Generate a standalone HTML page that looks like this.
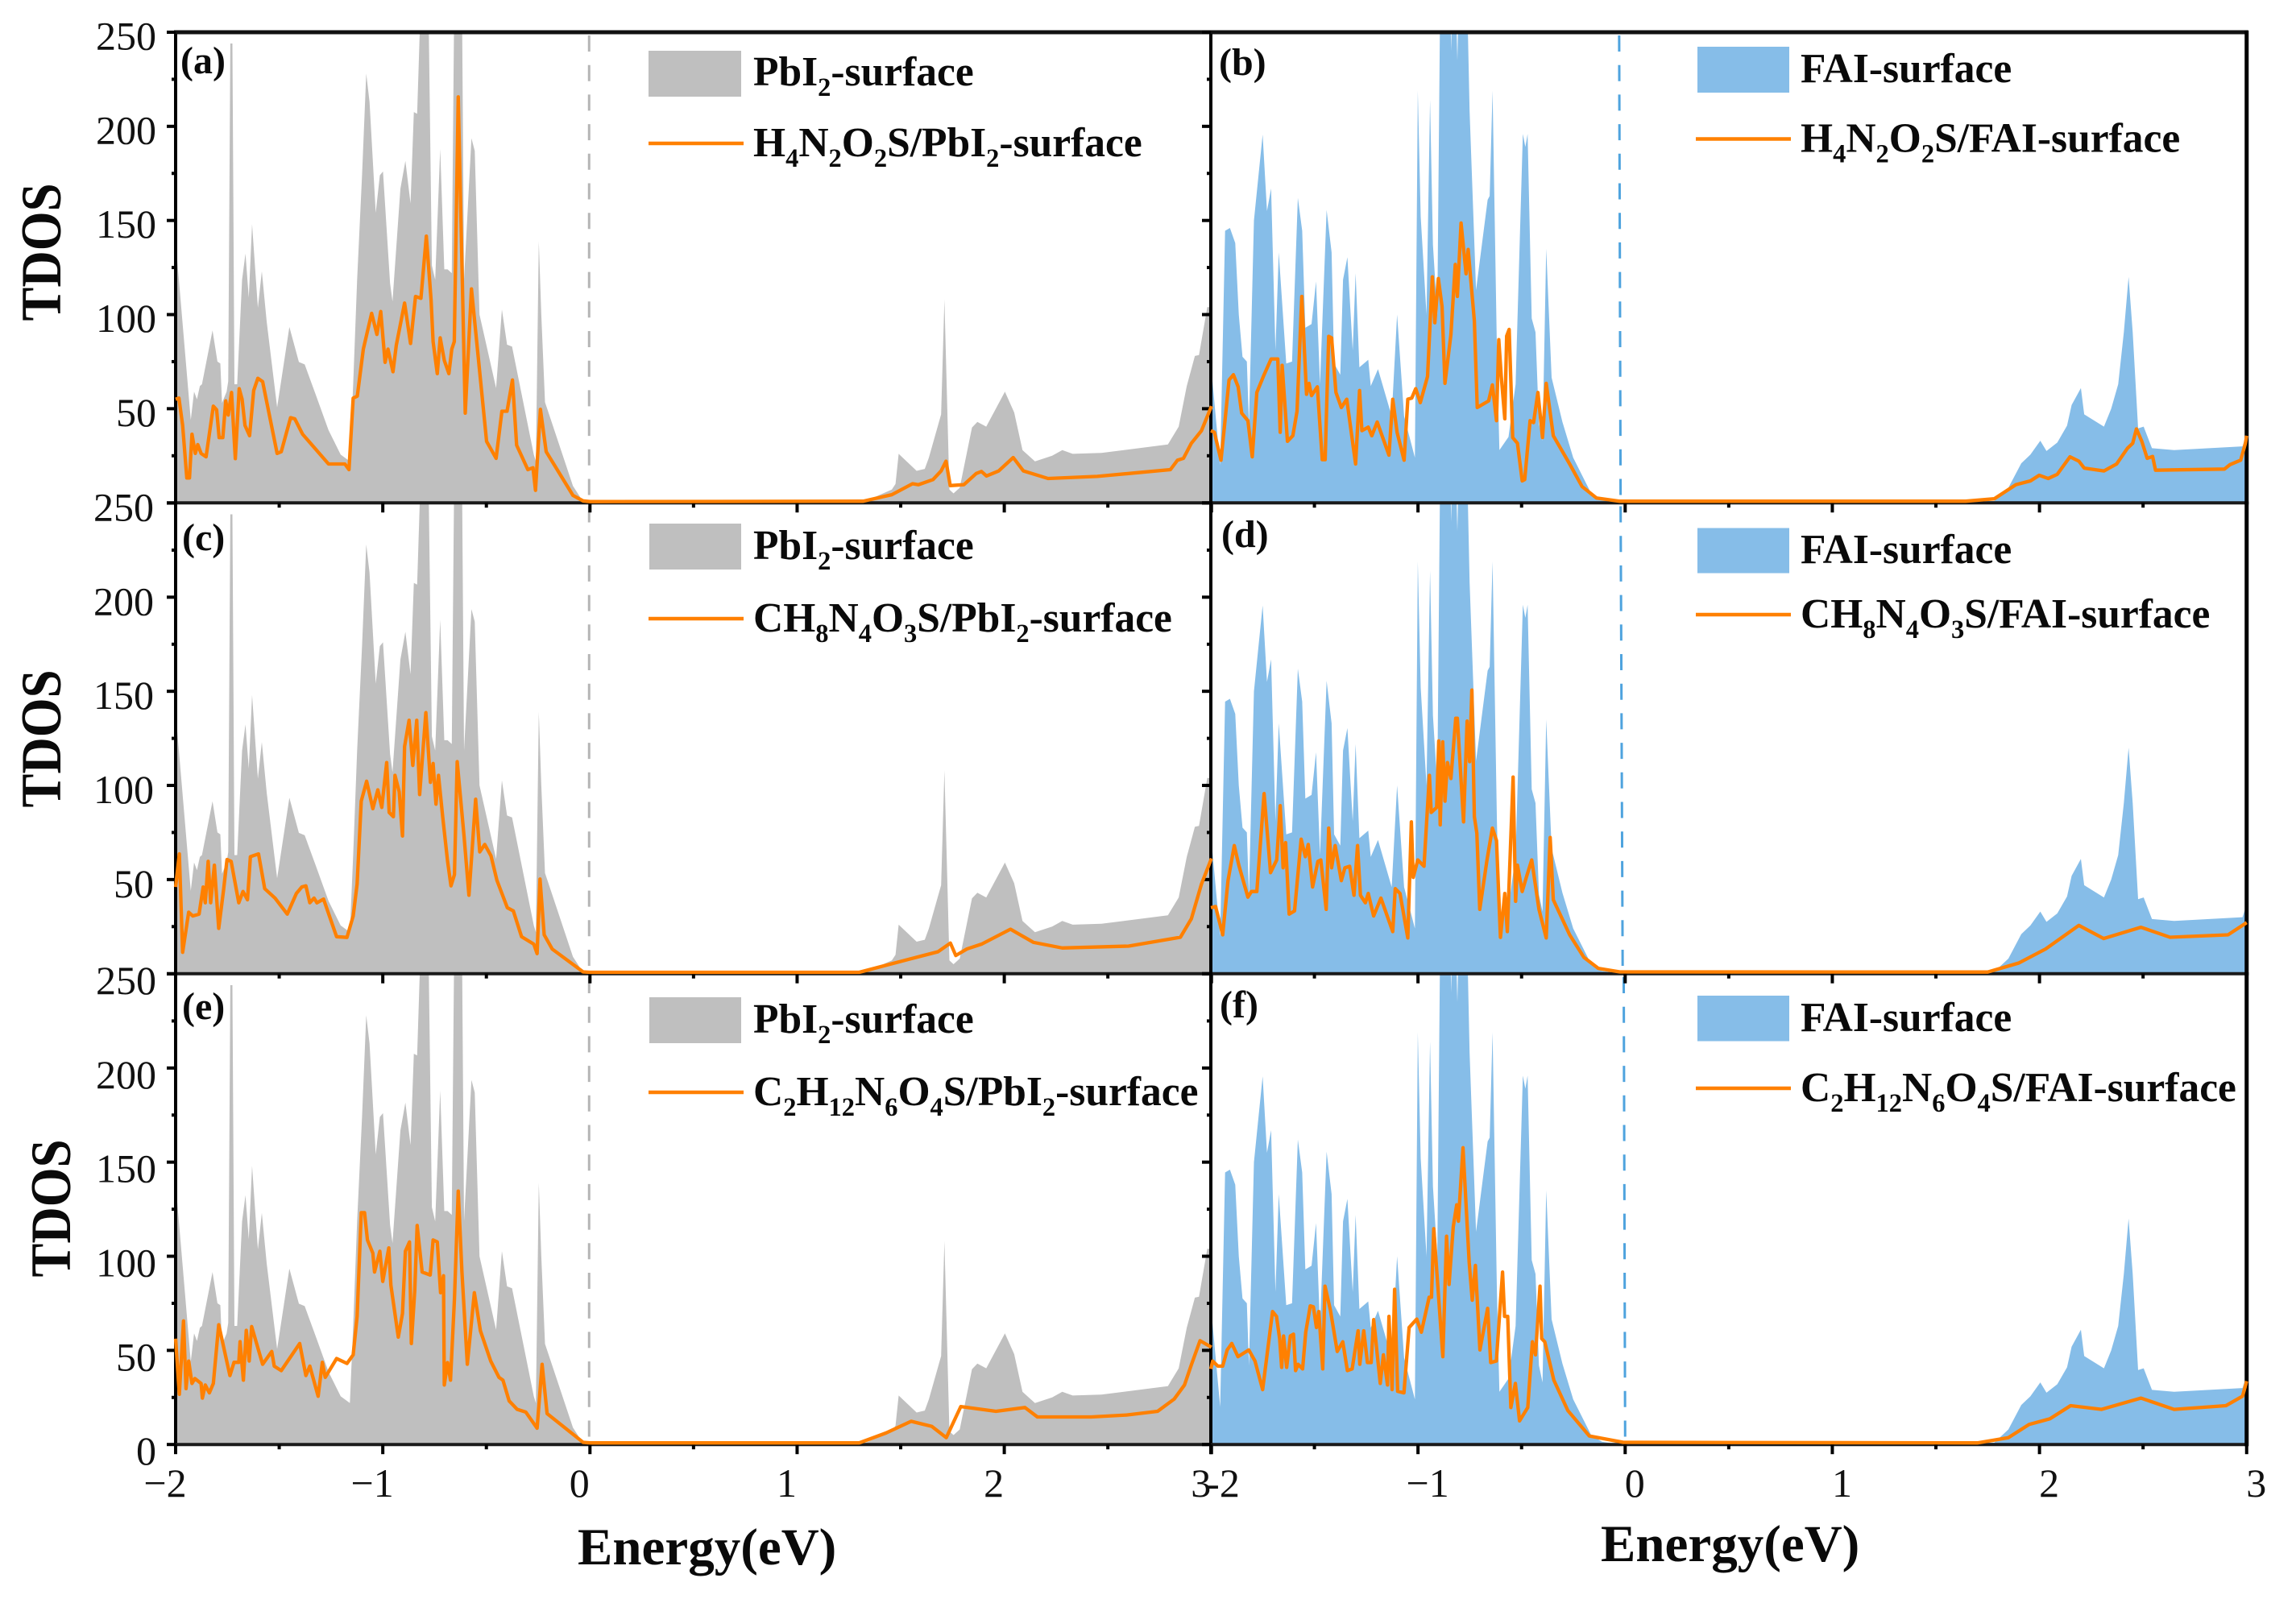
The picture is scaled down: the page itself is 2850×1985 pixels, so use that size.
<!DOCTYPE html>
<html lang="en">
<head>
<meta charset="utf-8">
<title>TDOS of PbI2 and FAI surfaces</title>
<style>
html,body{margin:0;padding:0;background:#fff;}
svg{display:block;}
.leg{font-family:"Liberation Serif",serif;font-weight:700;font-size:51.5px;fill:#0a0a0a;}
.sub{font-size:32.5px;}
.letter{font-family:"Liberation Serif",serif;font-weight:700;font-size:48px;fill:#0a0a0a;}
.title{font-family:"Liberation Serif",serif;font-weight:700;fill:#0a0a0a;}
.tick{font-family:"Liberation Serif",serif;font-size:50px;fill:#111;}
</style>
</head>
<body>
<svg id="chart" xmlns="http://www.w3.org/2000/svg" width="2850" height="1985" viewBox="0 0 2850 1985">
  <rect x="0" y="0" width="2850" height="1985" fill="#fff"/>
  <g id="plots"></g>

  <g>
    <rect x="805" y="63" width="115" height="57" fill="#bfbfbf"/>
    <text class="leg" x="935" y="106">PbI<tspan class="sub" dy="13">2</tspan><tspan dy="-13">-surface</tspan></text>
    <line x1="805" x2="923" y1="178" y2="178" stroke="#ff8000" stroke-width="4.6"/>
    <text class="leg" x="935" y="194">H<tspan class="sub" dy="13">4</tspan><tspan dy="-13">N</tspan><tspan class="sub" dy="13">2</tspan><tspan dy="-13">O</tspan><tspan class="sub" dy="13">2</tspan><tspan dy="-13">S/PbI</tspan><tspan class="sub" dy="13">2</tspan><tspan dy="-13">-surface</tspan></text>
  </g>
  <g>
    <rect x="2107" y="58" width="114" height="57" fill="#86bde8"/>
    <text class="leg" x="2235" y="102">FAI-surface</text>
    <line x1="2105" x2="2223" y1="172.5" y2="172.5" stroke="#ff8000" stroke-width="4.6"/>
    <text class="leg" x="2235" y="188.5">H<tspan class="sub" dy="13">4</tspan><tspan dy="-13">N</tspan><tspan class="sub" dy="13">2</tspan><tspan dy="-13">O</tspan><tspan class="sub" dy="13">2</tspan><tspan dy="-13">S/FAI-surface</tspan></text>
  </g>
  <g>
    <rect x="806" y="650" width="114" height="57" fill="#bfbfbf"/>
    <text class="leg" x="935" y="694">PbI<tspan class="sub" dy="13">2</tspan><tspan dy="-13">-surface</tspan></text>
    <line x1="805" x2="923" y1="768" y2="768" stroke="#ff8000" stroke-width="4.6"/>
    <text class="leg" x="935" y="784">CH<tspan class="sub" dy="13">8</tspan><tspan dy="-13">N</tspan><tspan class="sub" dy="13">4</tspan><tspan dy="-13">O</tspan><tspan class="sub" dy="13">3</tspan><tspan dy="-13">S/PbI</tspan><tspan class="sub" dy="13">2</tspan><tspan dy="-13">-surface</tspan></text>
  </g>
  <g>
    <rect x="2107" y="655.5" width="114" height="56" fill="#86bde8"/>
    <text class="leg" x="2235" y="699">FAI-surface</text>
    <line x1="2105" x2="2223" y1="763" y2="763" stroke="#ff8000" stroke-width="4.6"/>
    <text class="leg" x="2235" y="779">CH<tspan class="sub" dy="13">8</tspan><tspan dy="-13">N</tspan><tspan class="sub" dy="13">4</tspan><tspan dy="-13">O</tspan><tspan class="sub" dy="13">3</tspan><tspan dy="-13">S/FAI-surface</tspan></text>
  </g>
  <g>
    <rect x="806" y="1238" width="114" height="57" fill="#bfbfbf"/>
    <text class="leg" x="935" y="1282">PbI<tspan class="sub" dy="13">2</tspan><tspan dy="-13">-surface</tspan></text>
    <line x1="805" x2="923" y1="1356" y2="1356" stroke="#ff8000" stroke-width="4.6"/>
    <text class="leg" x="935" y="1372">C<tspan class="sub" dy="13">2</tspan><tspan dy="-13">H</tspan><tspan class="sub" dy="13">12</tspan><tspan dy="-13">N</tspan><tspan class="sub" dy="13">6</tspan><tspan dy="-13">O</tspan><tspan class="sub" dy="13">4</tspan><tspan dy="-13">S/PbI</tspan><tspan class="sub" dy="13">2</tspan><tspan dy="-13">-surface</tspan></text>
  </g>
  <g>
    <rect x="2107" y="1236" width="114" height="56.5" fill="#86bde8"/>
    <text class="leg" x="2235" y="1280">FAI-surface</text>
    <line x1="2105" x2="2223" y1="1351" y2="1351" stroke="#ff8000" stroke-width="4.6"/>
    <text class="leg" x="2235" y="1367">C<tspan class="sub" dy="13">2</tspan><tspan dy="-13">H</tspan><tspan class="sub" dy="13">12</tspan><tspan dy="-13">N</tspan><tspan class="sub" dy="13">6</tspan><tspan dy="-13">O</tspan><tspan class="sub" dy="13">4</tspan><tspan dy="-13">S/FAI-surface</tspan></text>
  </g>

  <text class="letter" x="224" y="91">(a)</text>
  <text class="letter" x="1513" y="93">(b)</text>
  <text class="letter" x="226" y="683">(c)</text>
  <text class="letter" x="1516" y="679">(d)</text>
  <text class="letter" x="226" y="1265">(e)</text>
  <text class="letter" x="1514" y="1263">(f)</text>

  <text class="title" font-size="71" text-anchor="middle" textLength="171" lengthAdjust="spacingAndGlyphs" transform="translate(75,313) rotate(-90)">TDOS</text>
  <text class="title" font-size="71" text-anchor="middle" textLength="171" lengthAdjust="spacingAndGlyphs" transform="translate(75,917) rotate(-90)">TDOS</text>
  <text class="title" font-size="71" text-anchor="middle" textLength="171" lengthAdjust="spacingAndGlyphs" transform="translate(87,1500) rotate(-90)">TDOS</text>
  <text class="title" font-size="65" x="717" y="1942">Energy(eV)</text>
  <text class="title" font-size="65" x="1987" y="1938">Energy(eV)</text>
</svg>

<script>
// Shaded reference curves
const pbi2Energy = [-2,-1.927,-1.911,-1.897,-1.883,-1.873,-1.822,-1.798,-1.784,-1.776,-1.754,-1.746,-1.736,-1.726,-1.716,-1.703,-1.679,-1.663,-1.647,-1.631,-1.603,-1.584,-1.56,-1.51,-1.451,-1.405,-1.377,-1.322,-1.262,-1.203,-1.159,-1.143,-1.124,-1.1,-1.08,-1.064,-1.034,-1.014,-0.999,-0.965,-0.953,-0.915,-0.891,-0.866,-0.85,-0.834,-0.816,-0.78,-0.763,-0.747,-0.723,-0.703,-0.687,-0.667,-0.655,-0.618,-0.608,-0.572,-0.556,-0.533,-0.453,-0.425,-0.4,-0.376,-0.271,-0.261,-0.247,-0.235,-0.217,-0.082,-0.033,0,1.32,1.457,1.475,1.49,1.577,1.616,1.636,1.695,1.711,1.735,1.755,1.785,1.844,1.87,1.913,2.003,2.048,2.088,2.148,2.231,2.28,2.33,2.469,2.79,2.842,2.881,2.92,2.94,2.98,3];
const pbi2Tdos = [139,44,59,55,62,63,91.6,75,74,53,59,64.6,244,244,63,63,118.5,132.4,109,148,103.6,123,96,50.7,93.4,74.8,73.5,57,38.6,25.6,22,63,118.5,174,228,213,154,174,176,116.6,107,166.8,181.6,159,207.6,206.7,270,270,126,118.5,188,124,124,122,270,270,118.5,193.7,187,100,61,102.7,84,83,25.6,22,139,100,53.5,9,0.6,0,0.4,7,10,26,17,18,24,47,108,7,5,8,40,43,40.5,59,48,28,22,25,28,26,26.5,31,40.5,62,78,78.5,104,104];
const faiEnergy = [-2,-1.955,-1.931,-1.908,-1.882,-1.865,-1.847,-1.826,-1.816,-1.792,-1.75,-1.729,-1.709,-1.688,-1.672,-1.636,-1.608,-1.58,-1.559,-1.544,-1.514,-1.492,-1.473,-1.441,-1.417,-1.405,-1.375,-1.362,-1.341,-1.315,-1.301,-1.283,-1.24,-1.228,-1.193,-1.127,-1.101,-1.067,-1.015,-1.001,-0.987,-0.959,-0.942,-0.928,-0.907,-0.893,-0.845,-0.84,-0.835,-0.818,-0.81,-0.803,-0.763,-0.751,-0.72,-0.664,-0.654,-0.64,-0.619,-0.607,-0.563,-0.529,-0.494,-0.482,-0.471,-0.451,-0.433,-0.416,-0.399,-0.381,-0.355,-0.303,-0.251,-0.164,-0.112,-0.026,1.64,1.782,1.85,1.912,1.956,2.004,2.034,2.086,2.133,2.155,2.2,2.216,2.311,2.346,2.38,2.407,2.43,2.45,2.476,2.503,2.543,2.65,2.98,3];
const faiTdos = [74,20,144.5,146,138,100,77.6,75,42,150,195.6,155,167,81,133,74,75,162,144.5,93,95,117.6,63,155.6,133,74,68,118.5,130.5,81,122,72,76,62,71,46,100,46,24,219,152,100,214,137,100,270,270,240,270,270,235,270,270,208,113,161,163,219,81,28,35,63,196,189,196,98,90.6,42,33,135,66.5,43,24,5,1.5,0,0.4,1,8,21,25.6,33,27.5,32,41,52,61,47,40.5,50,63,90.6,120,90.6,39.6,40.5,29,28,30,37];

// Orange adsorbate curves
const lineAEnergy = [-2,-1.984,-1.966,-1.946,-1.933,-1.921,-1.905,-1.893,-1.877,-1.853,-1.818,-1.802,-1.79,-1.772,-1.758,-1.746,-1.73,-1.712,-1.693,-1.679,-1.665,-1.643,-1.623,-1.603,-1.58,-1.51,-1.49,-1.445,-1.425,-1.387,-1.262,-1.183,-1.163,-1.143,-1.123,-1.094,-1.054,-1.028,-1.01,-0.989,-0.975,-0.951,-0.935,-0.895,-0.866,-0.842,-0.816,-0.79,-0.767,-0.757,-0.737,-0.723,-0.703,-0.681,-0.667,-0.655,-0.636,-0.602,-0.572,-0.499,-0.453,-0.425,-0.4,-0.374,-0.354,-0.3,-0.275,-0.263,-0.239,-0.211,-0.082,-0.033,0,1.319,1.457,1.557,1.586,1.656,1.695,1.719,1.739,1.805,1.864,1.89,1.914,1.973,2.043,2.092,2.211,2.449,2.647,2.802,2.836,2.865,2.903,2.952,3];
const lineATdos = [54.4,55,40.5,12.6,12.6,35.8,25.6,30.3,25.6,23.8,50.7,48.8,34,34,53.5,46,58,22.8,60,54.4,40.5,35,59,65.5,63.7,25.6,26.5,44.6,44,35.8,20,20,17,55,56,81,100,88.8,101,74,81,69,83,105.5,84,109,108,141,107,85,68,87,75,68,81,85,215,47,113,32,23,48,48,64.6,30,17,18,6,49,26.5,3.3,0.4,0,0.2,3.7,9.5,9,11.7,16.3,21.5,8.5,9,14.9,16,13.6,16.3,23.4,16.3,12.3,13.4,15.4,17,22,23,31,37.7,50.7];

const lineBEnergy = [-2,-1.983,-1.951,-1.934,-1.912,-1.891,-1.868,-1.851,-1.821,-1.8,-1.778,-1.743,-1.709,-1.677,-1.665,-1.656,-1.63,-1.604,-1.584,-1.561,-1.538,-1.526,-1.514,-1.486,-1.462,-1.448,-1.431,-1.417,-1.396,-1.37,-1.344,-1.301,-1.282,-1.271,-1.24,-1.223,-1.197,-1.14,-1.122,-1.101,-1.067,-1.049,-1.03,-1.011,-0.989,-0.954,-0.931,-0.919,-0.902,-0.884,-0.87,-0.841,-0.82,-0.81,-0.792,-0.768,-0.758,-0.728,-0.714,-0.659,-0.641,-0.621,-0.61,-0.598,-0.581,-0.572,-0.56,-0.543,-0.52,-0.497,-0.485,-0.459,-0.442,-0.421,-0.399,-0.381,-0.347,-0.268,-0.208,-0.138,-0.026,1.643,1.782,1.886,1.956,1.999,2.042,2.086,2.147,2.19,2.216,2.311,2.372,2.425,2.45,2.468,2.494,2.52,2.546,2.56,2.893,2.92,2.971,2.994,3];
const lineBTdos = [37.7,36.8,22,40.5,64.6,67.4,61,47,43,23.8,58,67.4,75.8,75.8,36.8,72.4,32,35,48,109,57,62.8,56.3,61,22.3,22.3,87.8,87,58,50,54.4,20,59,37.7,39.6,35,42.3,24.7,54.4,36.8,22,54.4,55,60,52.6,66.5,119.4,95,118.5,103.6,62.8,88.8,126,109,148,121,134,96,50,53.5,62,43,86,66.5,44,88,91.5,34,31,11,11.7,43,42,58,34,62.8,35,20,8,1.9,0.2,0.2,1.5,9,11,14,12.3,14.5,23.8,21.5,17.8,16.3,20,28.4,31,38.6,32,23,24,16.7,17.3,19.7,22,31,35];

const lineCEnergy = [-2,-1.982,-1.966,-1.937,-1.917,-1.887,-1.867,-1.857,-1.843,-1.831,-1.813,-1.792,-1.768,-1.752,-1.732,-1.695,-1.675,-1.653,-1.639,-1.6,-1.57,-1.52,-1.461,-1.417,-1.391,-1.371,-1.352,-1.332,-1.318,-1.286,-1.223,-1.173,-1.143,-1.124,-1.104,-1.078,-1.048,-1.024,-1.005,-0.981,-0.969,-0.949,-0.941,-0.921,-0.905,-0.895,-0.873,-0.855,-0.836,-0.822,-0.792,-0.77,-0.757,-0.743,-0.731,-0.711,-0.687,-0.671,-0.654,-0.641,-0.608,-0.584,-0.552,-0.532,-0.508,-0.478,-0.449,-0.399,-0.37,-0.33,-0.271,-0.255,-0.241,-0.221,-0.182,-0.033,0,1.3,1.54,1.68,1.74,1.766,1.82,1.89,2.03,2.14,2.28,2.6,2.85,2.903,2.952,3];
const lineCTdos = [45.4,63,10.7,32,30,31,45.4,37,59,37,57,23.4,44.5,60,59,37,43,38.6,61.5,63,44.5,39.5,31,42,45.4,46,37,39.5,37,39,19,18.6,30,47,91,101.6,87,97,87.7,111.5,85,82.7,104.7,96,72.5,120,134,110,134,94.5,138,101,111,89.4,104.7,82.7,59,46,52,112,72.5,41,92,64,68,62,49,34.4,32.7,19,15,10,49.6,20,12.4,0.3,0.1,0.1,7,11,15.6,9,12.5,15,23,16,13,14,18.7,28.5,47,60.6];

const lineDEnergy = [-2,-1.977,-1.943,-1.917,-1.887,-1.865,-1.821,-1.804,-1.778,-1.743,-1.712,-1.682,-1.665,-1.651,-1.639,-1.622,-1.596,-1.564,-1.544,-1.53,-1.509,-1.483,-1.469,-1.443,-1.431,-1.417,-1.4,-1.37,-1.353,-1.33,-1.309,-1.292,-1.278,-1.254,-1.24,-1.214,-1.179,-1.122,-1.11,-1.087,-1.049,-1.032,-1.023,-1.001,-0.971,-0.945,-0.936,-0.91,-0.9,-0.893,-0.881,-0.87,-0.858,-0.841,-0.818,-0.81,-0.78,-0.763,-0.751,-0.74,-0.728,-0.716,-0.702,-0.667,-0.641,-0.621,-0.602,-0.581,-0.569,-0.541,-0.529,-0.52,-0.497,-0.477,-0.451,-0.416,-0.381,-0.362,-0.347,-0.268,-0.199,-0.13,-0.026,1.75,1.9,2.03,2.19,2.31,2.49,2.63,2.91,3];
const lineDTdos = [34.4,35,20,48.8,67.4,57,40,43,43,95,53,59.8,88.6,55.6,69,31,32.7,70.8,61.5,68,45.4,59,59.8,33.5,76.7,55.6,67.4,48.8,55.6,56.4,41,67.4,41,37,42,30,39.5,21.7,44.5,42,18.3,80,50.5,59.8,56.4,104.7,85,87.7,123,78.4,122.5,91,111.5,103,135,135,80,133.5,112,150,82.7,74,33.5,59.8,76.7,70,18.6,42,21.7,103.8,37.8,57,43,50.5,59.8,33.5,18.3,71.7,38.6,20,8,2.2,0.3,0.2,5,12.5,25,18,24,18.7,20,26.5];

const lineEEnergy = [-2,-1.982,-1.962,-1.95,-1.937,-1.921,-1.907,-1.877,-1.871,-1.857,-1.837,-1.818,-1.792,-1.738,-1.718,-1.695,-1.689,-1.673,-1.659,-1.645,-1.633,-1.58,-1.536,-1.524,-1.49,-1.401,-1.371,-1.352,-1.312,-1.292,-1.278,-1.223,-1.173,-1.143,-1.124,-1.104,-1.088,-1.074,-1.048,-1.04,-1.014,-1,-0.971,-0.961,-0.925,-0.905,-0.891,-0.871,-0.862,-0.846,-0.834,-0.81,-0.771,-0.757,-0.737,-0.721,-0.707,-0.703,-0.687,-0.673,-0.654,-0.636,-0.618,-0.592,-0.558,-0.529,-0.479,-0.439,-0.42,-0.39,-0.351,-0.31,-0.255,-0.231,-0.207,-0.033,0,1.3,1.43,1.55,1.65,1.72,1.79,1.96,2.1,2.16,2.42,2.59,2.74,2.82,2.87,2.903,2.945,3];
const lineETdos = [55.6,26,65,29,43.7,31.8,34.4,31.8,24,31,26.8,31.8,63,36,43,43,54,33.5,60,43.7,62,42,48.8,41,38.6,53,36,41,25,43,35,45,42.4,47,67.4,122.5,122.5,108,101,91,102,86,103.8,84,56.4,69,102,107,53,81,115.7,91,89.4,108,107,80,89,31,42.9,33.5,76.7,134,91,42,80,59.8,43.7,35,33.5,22.5,18,16.6,8,42,15.8,0.5,0.2,0.2,5.5,11.7,9,3,19.5,17,19,14,14,15,17,23.5,31,41.7,54.5,51];

const lineFEnergy = [-2,-1.991,-1.966,-1.943,-1.921,-1.899,-1.869,-1.817,-1.787,-1.75,-1.702,-1.683,-1.668,-1.658,-1.649,-1.634,-1.616,-1.601,-1.591,-1.579,-1.557,-1.542,-1.52,-1.505,-1.49,-1.479,-1.46,-1.449,-1.423,-1.39,-1.363,-1.341,-1.318,-1.289,-1.281,-1.262,-1.244,-1.226,-1.214,-1.182,-1.167,-1.147,-1.14,-1.125,-1.113,-1.098,-1.068,-1.043,-1.006,-0.984,-0.946,-0.935,-0.924,-0.88,-0.862,-0.85,-0.83,-0.813,-0.805,-0.783,-0.753,-0.738,-0.723,-0.701,-0.664,-0.649,-0.622,-0.592,-0.582,-0.567,-0.552,-0.53,-0.51,-0.47,-0.448,-0.433,-0.411,-0.403,-0.388,-0.344,-0.277,-0.173,-0.009,1.7,1.85,1.95,2.05,2.15,2.3,2.49,2.65,2.9,2.98,3];
const lineFTdos = [39.5,43.7,41,41,49.6,53,46,49.6,43.7,28.5,70,67.4,55.6,40.3,57,40.3,57,58,38.6,42,39.5,59,73,72.5,61.5,70,39.5,83.5,70.8,48.8,53.9,38.6,39.5,59.8,42,59.8,42.9,42.9,65.7,31.8,47,31,67.4,28.5,81.8,27.6,26.8,61.5,66,59,77.6,77.6,114,46,110,84.4,115,126.7,118,157,96,76,94.5,49.6,71.7,42.9,43.7,91,67.4,67.4,19,31.8,11.9,19,53.9,47,83.5,55.6,53.9,33.5,17.4,3.9,0.5,0.2,3,10,13,20,18,24,18,20,25,33];

// Axis values and labels
const xMajorTicks = [-2,-1,0,1,2,3];
const xMinorTicks = [-1.5,-0.5,0.5,1.5,2.5];
const yMajorTicks = [0,50,100,150,200,250];
const yMinorTicks = [25,75,125,175,225];
const yTickLabelsRow1 = ["50","100","150","200","250"];
const yTickLabelsRow2 = ["50","100","150","200","250"];
const yTickLabelsRow3 = ["0","50","100","150","200","250"];
const xTickLabelsLeft = ["\u22122","\u22121","0","1","2","3"];
const xTickLabelsRight = ["-2","\u22121","0","1","2","3"];

// Layout
const NS = "http://www.w3.org/2000/svg";
const plots = document.getElementById("plots");
const colLeft = [218, 1503];
const rowTop = [40, 624.5, 1209];
const PX_PER_EV = 257.15;
const PX_PER_TDOS = 584.2 / 250;
const COLOR_GRAY = "#bfbfbf", COLOR_BLUE = "#86bde8", COLOR_ORANGE = "#ff8000";

function xScale(col, e) { return colLeft[col] + (e + 2) * PX_PER_EV; }
function yScale(row, t) { return rowTop[row] + 584.2 - t * PX_PER_TDOS; }
function svgEl(tag) { return document.createElementNS(NS, tag); }

function areaPath(col, row, es, ts) {
  const n = Math.min(es.length, ts.length);
  let d = "M" + xScale(col, es[0]).toFixed(1) + " " + yScale(row, 0).toFixed(1);
  for (let i = 0; i < n; i++) d += "L" + xScale(col, es[i]).toFixed(1) + " " + yScale(row, ts[i]).toFixed(1);
  d += "L" + xScale(col, es[n - 1]).toFixed(1) + " " + yScale(row, 0).toFixed(1) + "Z";
  return d;
}
function linePath(col, row, es, ts) {
  const n = Math.min(es.length, ts.length);
  let d = "";
  for (let i = 0; i < n; i++) d += (i ? "L" : "M") + xScale(col, es[i]).toFixed(1) + " " + (yScale(row, ts[i]) - 1.5).toFixed(1);
  return d;
}

const panels = [
  {key:"a", col:0, row:0, area:[pbi2Energy,pbi2Tdos], line:[lineAEnergy,lineATdos], fermi:[-0.004,-0.004]},
  {key:"b", col:1, row:0, area:[faiEnergy,faiTdos], line:[lineBEnergy,lineBTdos], fermi:[-0.029,-0.022]},
  {key:"c", col:0, row:1, area:[pbi2Energy,pbi2Tdos], line:[lineCEnergy,lineCTdos], fermi:[-0.004,-0.004]},
  {key:"d", col:1, row:1, area:[faiEnergy,faiTdos], line:[lineDEnergy,lineDTdos], fermi:[-0.022,-0.012]},
  {key:"e", col:0, row:2, area:[pbi2Energy,pbi2Tdos], line:[lineEEnergy,lineETdos], fermi:[-0.004,-0.004]},
  {key:"f", col:1, row:2, area:[faiEnergy,faiTdos], line:[lineFEnergy,lineFTdos], fermi:[-0.007,0]}
];

// Clip regions, shaded areas and Fermi-level markers
panels.forEach(function (p) {
  const clip = svgEl("clipPath");
  clip.setAttribute("id", "clip-" + p.key);
  const cr = svgEl("rect");
  cr.setAttribute("x", xScale(p.col, -2));
  cr.setAttribute("y", rowTop[p.row]);
  cr.setAttribute("width", 5 * PX_PER_EV);
  cr.setAttribute("height", 584.2);
  clip.appendChild(cr);
  plots.appendChild(clip);

  const area = svgEl("path");
  
  
  area.setAttribute("d", areaPath(p.col, p.row, p.area[0], p.area[1]));
  area.setAttribute("fill", p.col === 0 ? COLOR_GRAY : COLOR_BLUE);
  area.setAttribute("clip-path", "url(#clip-" + p.key + ")");
  plots.appendChild(area);

  const fermi = svgEl("line");
  
  
  fermi.setAttribute("x1", xScale(p.col, p.fermi[0]));
  fermi.setAttribute("x2", xScale(p.col, p.fermi[1]));
  fermi.setAttribute("y1", rowTop[p.row] + 4);
  fermi.setAttribute("y2", rowTop[p.row] + 584);
  fermi.setAttribute("stroke", p.col === 0 ? "#b5b5b5" : "#4ea3de");
  fermi.setAttribute("stroke-width", "3");
  fermi.setAttribute("stroke-dasharray", "20 16.7");
  plots.appendChild(fermi);
});

function addSegment(name, x1, y1, x2, y2, w, color) {
  const seg = svgEl("line");
  
  
  seg.setAttribute("x1", x1);
  seg.setAttribute("y1", y1);
  seg.setAttribute("x2", x2);
  seg.setAttribute("y2", y2);
  seg.setAttribute("stroke", color);
  seg.setAttribute("stroke-width", w);
  plots.appendChild(seg);
}

// Spines and ticks
panels.forEach(function (p) {
  const L = xScale(p.col, -2), R = xScale(p.col, 3), T = rowTop[p.row], B = yScale(p.row, 0);
  addSegment("y-axis-line-" + p.key, L, T - 2, L, B + 2, 4, "#000");
  addSegment("x-axis-line-" + p.key, L - 2, B, R + 2, B, 4, "#1a1a1a");
  if (p.row === 0) addSegment("top-spine-" + p.key, L - 2, T, R + 2, T, 5, "#111");
  if (p.col === 1) addSegment("right-spine-" + p.key, R, T - 2, R, B + 2, 5, "#000");
  xMajorTicks.forEach(function (v) { addSegment("x-tick-major-" + p.key, xScale(p.col, v), B, xScale(p.col, v), B + 12, 4, "#000"); });
  xMinorTicks.forEach(function (v) { addSegment("x-tick-minor-" + p.key, xScale(p.col, v), B, xScale(p.col, v), B + 6, 4, "#000"); });
  yMajorTicks.forEach(function (v) { addSegment("y-tick-major-" + p.key, L - 11, yScale(p.row, v), L, yScale(p.row, v), 4, "#000"); });
  yMinorTicks.forEach(function (v) { addSegment("y-tick-minor-" + p.key, L - 5, yScale(p.row, v), L, yScale(p.row, v), 4, "#000"); });
});

// Orange curves on top of the axes
panels.forEach(function (p) {
  const line = svgEl("path");
  
  
  line.setAttribute("d", linePath(p.col, p.row, p.line[0], p.line[1]));
  line.setAttribute("fill", "none");
  line.setAttribute("stroke", COLOR_ORANGE);
  line.setAttribute("stroke-width", "4.3");
  line.setAttribute("stroke-linejoin", "round");
  plots.appendChild(line);
});

// Y tick labels (first column only)
const yLabelRight = [194, 191, 194];
const yLabelDrop = [21.5, 22, 25];
[yTickLabelsRow1, yTickLabelsRow2, yTickLabelsRow3].forEach(function (labels, row) {
  labels.forEach(function (label) {
    const t = svgEl("text");
    
    
    t.setAttribute("class", "tick");
    t.setAttribute("text-anchor", "end");
    t.setAttribute("x", yLabelRight[row]);
    t.setAttribute("y", yScale(row, Number(label)) + yLabelDrop[row]);
    t.textContent = label;
    plots.appendChild(t);
  });
});

// X tick labels (bottom row)
[xTickLabelsLeft, xTickLabelsRight].forEach(function (labels, col) {
  labels.forEach(function (label, i) {
    const t = svgEl("text");
    
    
    t.setAttribute("class", "tick");
    t.setAttribute("text-anchor", "middle");
    const shift = col === 0 ? -13 : (i === 0 ? 15 : 12);
    t.setAttribute("x", xScale(col, xMajorTicks[i]) + shift);
    t.setAttribute("y", 1858);
    t.textContent = label;
    plots.appendChild(t);
  });
});
</script>
</body>
</html>
